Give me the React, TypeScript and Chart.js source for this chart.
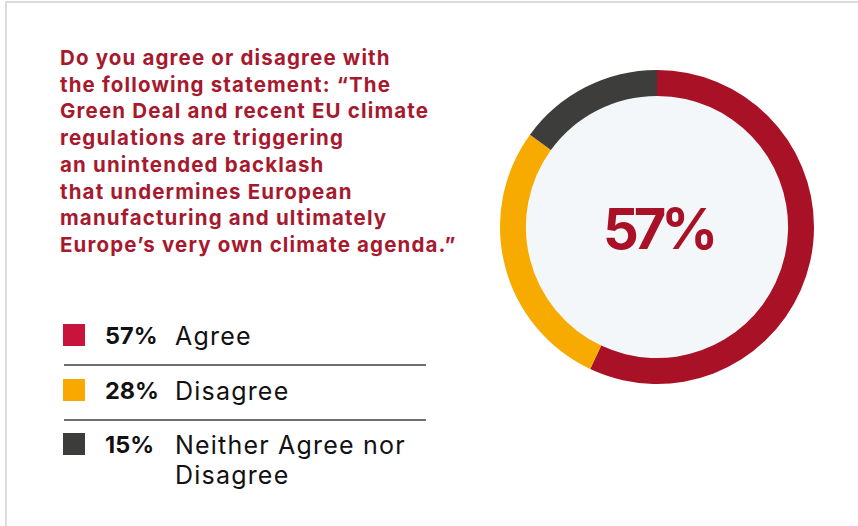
import React, { useEffect, useRef } from "react";
import { Chart, registerables } from "chart.js";

Chart.register(...registerables);

const categories = ["Agree", "Disagree", "Neither Agree nor Disagree"];
const labelLines = [["Agree"], ["Disagree"], ["Neither Agree nor", "Disagree"]];
const values = [57, 28, 15];
const ringColors = ["#A91226", "#F7AB00", "#3D3D3B"];
const legendColors = ["#C8143C", "#F9A800", "#3C3C3A"];
const titleLines = [
  "Do you agree or disagree with",
  "the following statement: \u201CThe",
  "Green Deal and recent EU climate",
  "regulations are triggering",
  "an unintended backlash",
  "that undermines European",
  "manufacturing and ultimately",
  "Europe\u2019s very own climate agenda.\u201D",
];

const FONT = "Inter, 'Noto Sans', sans-serif";

export default function App() {
  const ref = useRef<HTMLCanvasElement | null>(null);

  useEffect(() => {
    if (!ref.current) return;
    const innerFill = {
      id: "innerFill",
      beforeDatasetsDraw(chart: any) {
        const arc = chart.getDatasetMeta(0).data[0];
        if (!arc) return;
        const ctx = chart.ctx;
        ctx.save();
        ctx.beginPath();
        ctx.arc(arc.x, arc.y, arc.innerRadius + 0.5, 0, Math.PI * 2);
        ctx.fillStyle = "#F4F7F9";
        ctx.fill();
        ctx.restore();
      },
      afterDatasetsDraw(chart: any) {
        const arc = chart.getDatasetMeta(0).data[0];
        if (!arc) return;
        const ctx = chart.ctx;
        ctx.save();
        ctx.font = `700 56px ${FONT}`;
        (ctx as any).letterSpacing = "-5px";
        ctx.fillStyle = "#A91226";
        ctx.textAlign = "center";
        ctx.textBaseline = "alphabetic";
        ctx.fillText(`${values[0]}%`, arc.x + 1, arc.y + 22);
        ctx.restore();
      },
    };
    const chart = new Chart(ref.current, {
      type: "doughnut",
      data: {
        labels: categories,
        datasets: [
          {
            data: values,
            backgroundColor: ringColors,
            borderWidth: 0,
          },
        ],
      },
      options: {
        animation: false,
        responsive: false,
        maintainAspectRatio: false,
        cutout: "83.5%",
        layout: { padding: 8 },
        plugins: { legend: { display: false }, tooltip: { enabled: false } },
        events: [],
      },
      plugins: [innerFill],
    });
    return () => chart.destroy();
  }, []);

  const rowTops = [321, 376, 430];

  return (
    <div
      style={{
        position: "absolute",
        left: 0,
        top: 0,
        width: 858,
        height: 526,
        background: "#fff",
        overflow: "hidden",
        fontFamily: FONT,
      }}
    >
      <div
        style={{
          position: "absolute",
          left: 5,
          top: 1,
          width: 860,
          height: 540,
          borderTop: "2px solid #DCDCDC",
          borderLeft: "2px solid #DCDCDC",
        }}
      />
      <div
        style={{
          position: "absolute",
          left: 60,
          top: 45,
          color: "#A6192E",
          fontSize: 20.5,
          fontWeight: 700,
          letterSpacing: "1.15px",
          lineHeight: "26.7px",
          whiteSpace: "nowrap",
        }}
      >
        {titleLines.map((l, i) => (
          <div key={i}>{l}</div>
        ))}
      </div>
      {categories.map((c, i) => (
        <React.Fragment key={c}>
          <div
            style={{
              position: "absolute",
              left: 63,
              top: rowTops[i] + 3,
              width: 22,
              height: 22,
              background: legendColors[i],
            }}
          />
          <div
            style={{
              position: "absolute",
              left: 105,
              top: rowTops[i],
              fontSize: 23.5,
              lineHeight: "30px",
              fontWeight: 700,
              color: "#111",
            }}
          >
            {values[i]}%
          </div>
          <div
            style={{
              position: "absolute",
              left: 175,
              top: rowTops[i],
              fontSize: 25,
              letterSpacing: "1.2px",
              lineHeight: "30px",
              fontWeight: 400,
              color: "#111",
              whiteSpace: "nowrap",
            }}
          >
            {labelLines[i].map((l, j) => (
              <div key={j}>{l}</div>
            ))}
          </div>
          {i < categories.length - 1 && (
            <div
              style={{
                position: "absolute",
                left: 64,
                top: [364, 419][i],
                width: 362,
                height: 1.5,
                background: "#6F6F6F",
              }}
            />
          )}
        </React.Fragment>
      ))}
      <canvas
        ref={ref}
        width={330}
        height={330}
        style={{ position: "absolute", left: 492, top: 62, width: 330, height: 330 }}
      />
    </div>
  );
}
